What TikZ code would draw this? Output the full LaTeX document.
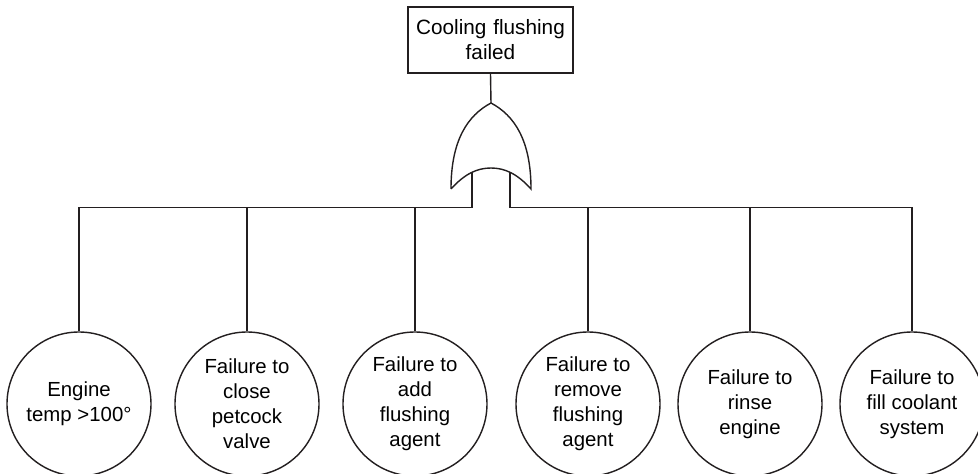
\documentclass[tikz,border=0pt]{standalone}
\usepackage{fontspec}
\setmainfont{Liberation Sans}
\usetikzlibrary{positioning}
\definecolor{ink}{HTML}{231F20}

\tikzset{
  topevent/.style={draw=ink, line width=0.8pt, align=center, text width=3.3cm,
    minimum height=1.32cm, inner sep=0pt, font=\fontsize{11.8}{14.2}\selectfont},
  basicevent/.style={circle, draw=ink, line width=0.8pt, minimum size=2.88cm,
    inner sep=0pt, align=center, font=\fontsize{11.6}{14.2}\selectfont},
  wire/.style={draw=ink, line width=0.8pt}
}

\begin{document}
\begin{tikzpicture}[x=1cm,y=1cm]
\useasboundingbox (0,0) rectangle (19.56,9.46);
\node[topevent] (top) at (9.81,8.66) {Cooling flushing\\failed};
% or gate
\coordinate (gtop) at (9.82,7.40);
\coordinate (gl) at (9.02,5.68);
\coordinate (gr) at (10.62,5.68);
\draw[wire, line join=miter] (gl) .. controls (9.02,6.65) and (9.35,7.15) .. (gtop)
  .. controls (10.29,7.15) and (10.62,6.65) .. (gr)
  .. controls (10.35,5.98) and (10.10,6.10) .. (9.82,6.10)
  .. controls (9.54,6.10) and (9.29,5.98) .. (gl);
\coordinate (gin1) at (9.44,5.99);
\coordinate (gin2) at (10.20,5.99);
\coordinate (bus) at (0,5.31);
% basic events
\node[basicevent] (e1) at (1.58,1.38) {Engine\\temp >100°};
\node[basicevent] (e2) at (4.94,1.38) {Failure to\\close\\petcock\\valve};
\node[basicevent] (e3) at (8.30,1.38) {Failure to\\add\\flushing\\agent};
\node[basicevent] (e4) at (11.76,1.38) {Failure to\\remove\\flushing\\agent};
\node[basicevent] (e5) at (15.00,1.38) {Failure to\\rinse\\engine};
\node[basicevent] (e6) at (18.24,1.38) {Failure to\\fill coolant\\system};
% connectors
\draw[wire] (top.south) -- (gtop);
\draw[wire] (gin1) -- (gin1 |- bus) -| (e1.north);
\draw[wire] (gin2) -- (gin2 |- bus) -| (e6.north);
\foreach \n in {2,3,4,5}
  \draw[wire] (e\n.north) -- (e\n.north |- bus);
\end{tikzpicture}
\end{document}
